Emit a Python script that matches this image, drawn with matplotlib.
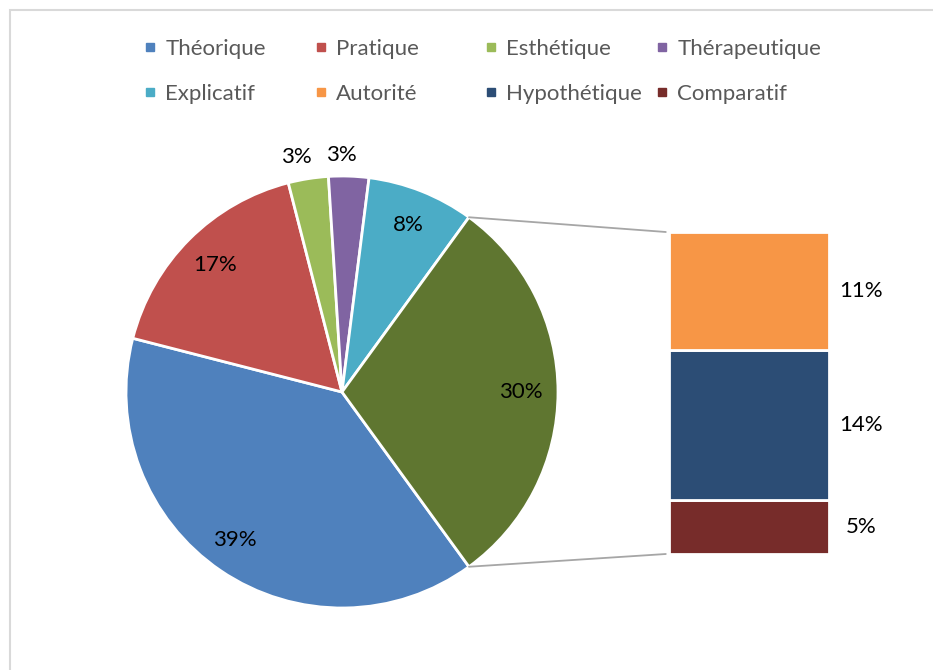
import matplotlib
matplotlib.use('Agg')
import matplotlib.pyplot as plt
from matplotlib.patches import ConnectionPatch, Rectangle
from matplotlib.lines import Line2D
import numpy as np

plt.rcParams['font.family'] = ['Lato', 'DejaVu Sans']

# pie part (last value = rest of the bar)
pie_labels = ['Théorique', 'Pratique', 'Esthétique', 'Thérapeutique', 'Explicatif']
pie_values = [39, 17, 3, 3, 8]
pie_colors = ['#4F81BD', '#C0504D', '#9BBB59', '#8064A2', '#4BACC6']
other_color = '#5F7630'

# bar part
bar_labels = ['Autorité', 'Hypothétique', 'Comparatif']
bar_values = [11, 14, 5]
bar_colors = ['#F79646', '#2C4D75', '#772C2A']

W, H = 933, 670
fig = plt.figure(figsize=(W / 100, H / 100), dpi=100)
ax = fig.add_axes([0, 0, 1, 1])

cx, cy, R = 342, 278, 216
other = sum(bar_values)
vals = pie_values + [other]
cols = pie_colors + [other_color]
wedges, _ = ax.pie(vals, colors=cols, startangle=-54, counterclock=False,
                   center=(cx, cy), radius=R,
                   wedgeprops=dict(edgecolor='white', linewidth=2))
ax.set_xlim(0, W)
ax.set_ylim(0, H)
ax.set_aspect('equal')
ax.axis('off')

# pie labels
for i, w in enumerate(wedges):
    mid = np.deg2rad((w.theta1 + w.theta2) / 2)
    pct = vals[i]
    r = 1.1 * R if pct < 5 else 0.83 * R
    dx = -8 if pct < 5 else (-6 if pct > 35 else 0)
    ax.text(cx + r * np.cos(mid) + dx, cy + r * np.sin(mid), f'{pct}%',
            ha='center', va='center', fontsize=16, color='black')

# bar of pie
bx = fig.add_axes([669 / W, 116 / H, 160 / W, 322 / H])
bottom = 0
for lab, v, c in zip(bar_labels[::-1], bar_values[::-1], bar_colors[::-1]):
    bx.bar(0, v, bottom=bottom, width=1, color=c, edgecolor='white', linewidth=2)
    bx.text(0.7, bottom + v / 2, f'{v}%', ha='center', va='center',
            fontsize=16, color='black')
    bottom += v
bx.set_xlim(-0.5, 0.5)
bx.set_ylim(0, other)
bx.axis('off')

# connector lines
ow = wedges[-1]
for ang, yb in [(ow.theta1, 0), (ow.theta2, other)]:
    a = np.deg2rad(ang)
    con = ConnectionPatch(xyA=(-0.52, yb), coordsA=bx.transData,
                          xyB=(cx + R * np.cos(a), cy + R * np.sin(a)),
                          coordsB=ax.transData, color='#A6A6A6', linewidth=1.3)
    fig.add_artist(con)

# chart frame
ax.add_patch(Rectangle((9.5, -20), 1000, H - 9.5 + 20, fill=False,
                       edgecolor='#D9D9D9', linewidth=1.5, clip_on=False))

# legend: 4 columns, 2 rows
all_labels = pie_labels + bar_labels
all_colors = pie_colors + bar_colors
order = [0, 4, 1, 5, 2, 6, 3, 7]
col_x = [132, 303, 473, 644]
for k in range(4):
    hs = []
    for j in order[2 * k:2 * k + 2]:
        hs.append(Line2D([], [], marker='s', linestyle='none', markersize=6,
                         color=all_colors[j], label=all_labels[j]))
    fig.legend(handles=hs, loc='upper left',
               bbox_to_anchor=(col_x[k] / W, 1 - 28 / H), frameon=False,
               fontsize=16, labelcolor='#595959', handlelength=0.6,
               handletextpad=0.4, labelspacing=1.12, borderpad=0)

fig.savefig('out.png', dpi=100)
